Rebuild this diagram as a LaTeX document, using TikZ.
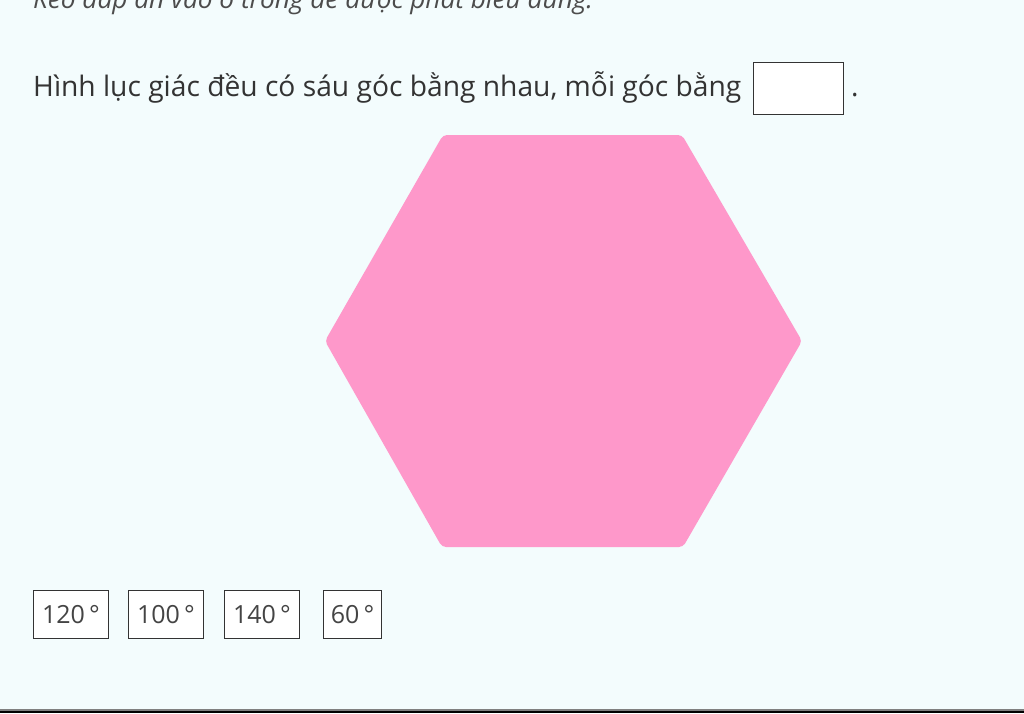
\documentclass[tikz,border=0pt]{standalone}
\usepackage{fontspec}
\setmainfont{Open Sans}
\definecolor{bg}{RGB}{243,252,253}
\definecolor{hexpink}{RGB}{254,152,202}
\definecolor{txt}{RGB}{51,51,51}
\definecolor{opt}{RGB}{68,68,68}
\begin{document}
\begin{tikzpicture}[x=1pt,y=-1pt,
  optbox/.style={draw=black!80,line width=1pt,fill=white,minimum height=48pt,inner sep=0pt,anchor=north west,text=opt,font=\fontsize{25}{28}\selectfont},
  ansbox/.style={draw=black!80,line width=1pt,fill=white,minimum width=90pt,minimum height=52pt,inner sep=0pt,anchor=north west}]
\useasboundingbox (0,0) rectangle (1024,713);
\fill[bg] (0,0) rectangle (1024,713);
% cut-off instruction line
\begin{scope}
\clip (0,0) rectangle (1024,713);
\node[anchor=base west,inner sep=0pt,text=black!70,font=\fontsize{26.2}{29}\selectfont\itshape] (instr) at (33,8) {Kéo đáp án vào ô trong đề được phát biểu đúng.};
\end{scope}
% question
\node[anchor=base west,inner sep=0pt,text=txt,font=\fontsize{28.2}{32}\selectfont] (q) at (33,96) {Hình lục giác đều có sáu góc bằng nhau, mỗi góc bằng};
\node[ansbox] (ans) at (753,62) {};
\node[anchor=base west,inner sep=0pt,text=txt,font=\fontsize{28}{32}\selectfont] (dot) at (851,96) {.};
% hexagon
\coordinate (h1) at (443,135);
\coordinate (h2) at (682,135);
\coordinate (h3) at (802,341);
\coordinate (h4) at (683,547);
\coordinate (h5) at (442,547);
\coordinate (h6) at (325,341);
\fill[hexpink,rounded corners=4pt] (h1) -- (h2) -- (h3) -- (h4) -- (h5) -- (h6) -- cycle;
% options
\node[optbox,minimum width=75pt] (o1) at (33,590) {120\,°};
\node[optbox,minimum width=75pt] (o2) at (128,590) {100\,°};
\node[optbox,minimum width=75pt] (o3) at (224,590) {140\,°};
\node[optbox,minimum width=58pt] (o4) at (323,590) {60\,°};
% bottom border
\fill[black!50] (0,709) rectangle (1024,710.5);
\fill[black] (0,710.5) rectangle (1024,713);
\end{tikzpicture}
\end{document}
